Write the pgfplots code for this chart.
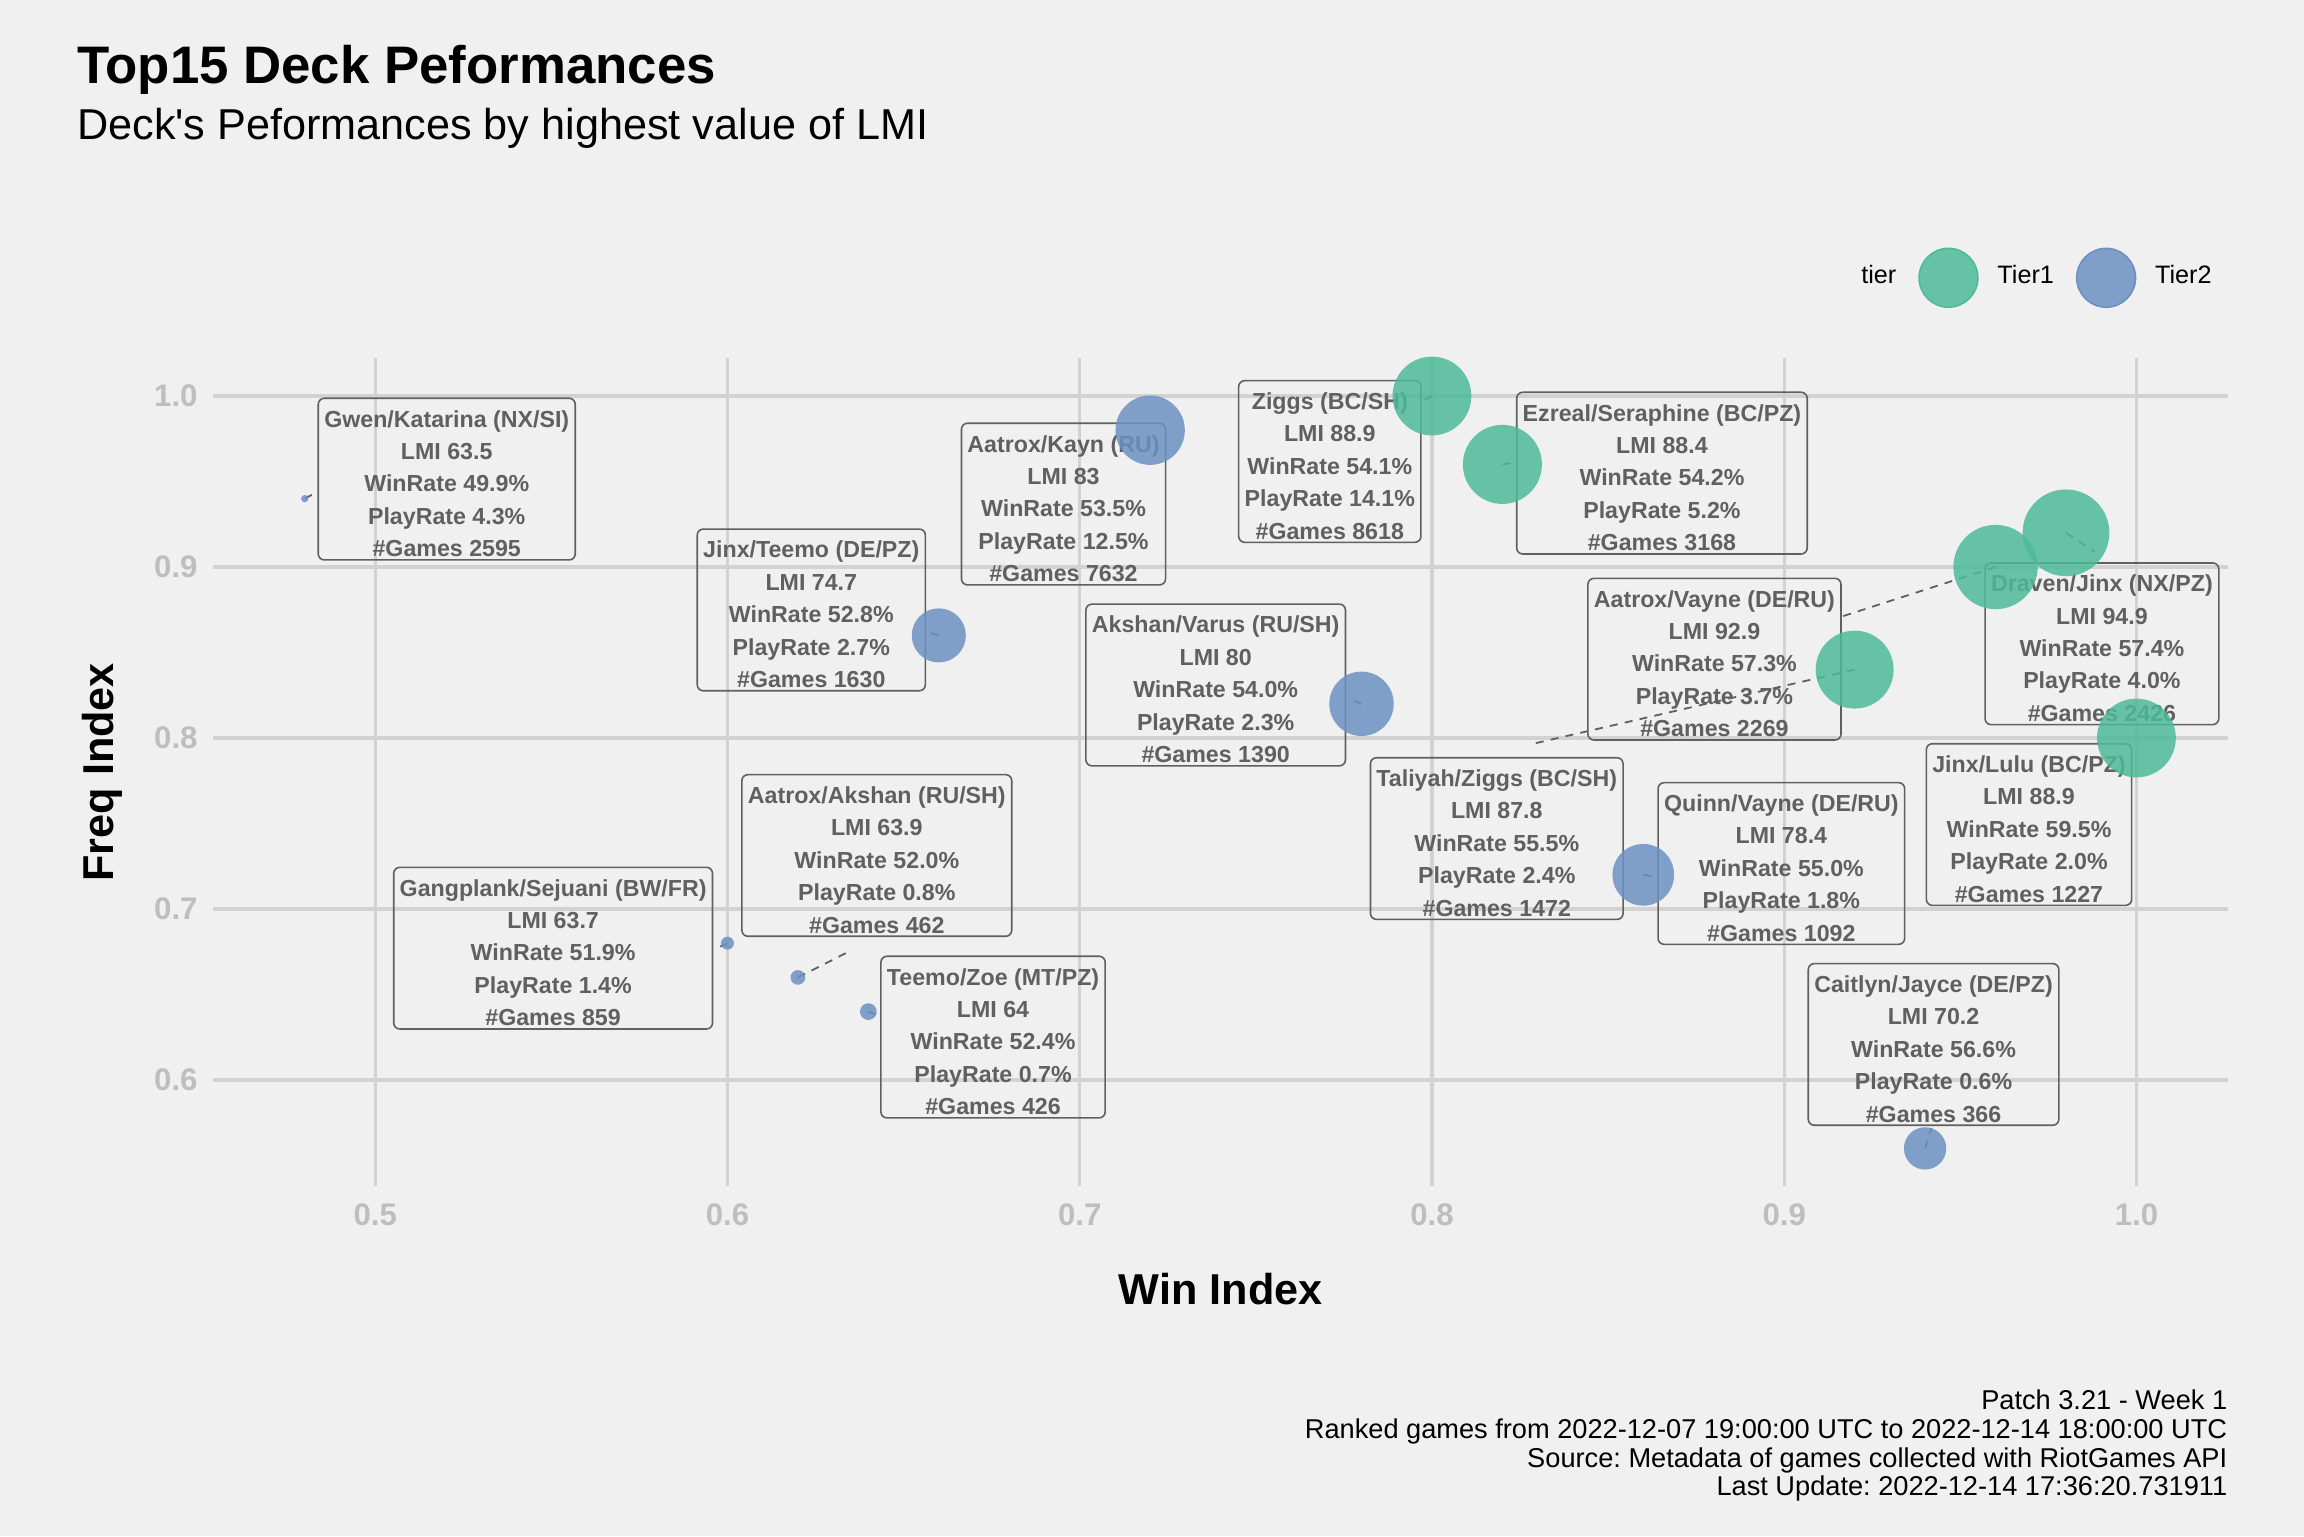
\documentclass[border=0pt]{standalone}
\usepackage{pgfplots}
\pgfplotsset{compat=1.18}
\usepackage{pgfplotstable}
\usepackage{fontspec}
\setmainfont{Liberation Sans}
\frenchspacing
\definecolor{bg}{HTML}{F0F0F0}
\definecolor{gridc}{HTML}{D2D2D2}
\definecolor{tickc}{HTML}{BEBEBE}
\definecolor{labc}{HTML}{606060}
\definecolor{tierA}{RGB}{78,186,152}
\definecolor{tierB}{RGB}{108,144,193}

% x = Win Index, y = Freq Index, r = bubble radius (pt), lmi
\pgfplotstableread{
x    y    r     lmi
0.80 1.00 9.85  88.9
0.82 0.96 9.88  88.4
0.96 0.90 10.54 92.9
0.98 0.92 10.84 94.9
0.92 0.84 9.74  87.8
1.00 0.80 9.85  88.9
}\tierone

\pgfplotstableread{
x    y    r     lmi
0.48 0.94 0.92  63.5
0.66 0.86 6.76  74.7
0.72 0.98 8.67  83.0
0.78 0.82 8.05  80.0
0.86 0.72 7.71  78.4
0.94 0.56 5.29  70.2
0.60 0.68 1.62  63.7
0.62 0.66 1.84  63.9
0.64 0.64 2.09  64.0
}\tiertwo

\tikzset{
  lab/.style={draw=labc, line width=0.4pt, rounded corners=1.5pt, text=labc,
    font=\bfseries\fontsize{5.8}{8.1}\selectfont, align=center,
    inner xsep=1.5pt, inner ysep=0.75pt, anchor=center},
  seg/.style={labc, line width=0.45pt, dash pattern=on 2pt off 1.8pt}
}
\newcommand{\st}{\rule{0pt}{6.45pt}}

\begin{document}
\begin{tikzpicture}
\fill[bg] (0,0) rectangle (576pt,384pt);
\begin{axis}[
  at={(53.3pt,87.5pt)}, anchor=south west,
  scale only axis, width=503.7pt, height=206.9pt,
  xmin=0.454, xmax=1.026, ymin=0.538, ymax=1.022,
  axis line style={draw=none},
  major tick length=0pt,
  tick style={draw=none},
  grid=major,
  major grid style={draw=gridc, line width=0.8pt},
  xtick={0.5,0.6,0.7,0.8,0.9,1.0},
  xticklabels={0.5,0.6,0.7,0.8,0.9,1.0},
  ytick={0.6,0.7,0.8,0.9,1.0},
  yticklabels={0.6,0.7,0.8,0.9,1.0},
  ticklabel style={font=\bfseries\fontsize{7.8}{8}\selectfont, text=tickc, inner sep=0pt},
  xticklabel style={anchor=center, yshift=-7.1pt},
  yticklabel style={anchor=east, xshift=-3.7pt},
  xlabel={Win Index}, ylabel={Freq Index},
  label style={font=\bfseries\fontsize{10.8}{12}\selectfont, inner sep=0pt},
  xlabel style={at={(axis description cs:0.5,-0.1247)}, anchor=center},
  ylabel style={at={(axis description cs:-0.0552,0.5)}, anchor=center},
  clip=false,
  legend columns=3,
  legend style={draw=none, fill=none, at={(1,1)}, anchor=south east,
    xshift=-4.1pt, yshift=12.6pt, inner sep=0pt, outer sep=0pt,
    cells={anchor=west},
    nodes={inner sep=0pt, font=\fontsize{6.3}{7}\selectfont, text=black},
    column sep=4.7pt,
    /tikz/every even column/.append style={column sep=5.5pt}},
]
% bubbles
\addplot[scatter, only marks, mark=*, forget plot,
  scatter/use mapped color={draw=tierA, fill=tierA},
  mark options={fill opacity=0.85, draw opacity=0},
  visualization depends on={\thisrow{r}\as\rr},
  scatter/@pre marker code/.append style={/tikz/mark size=\rr pt}]
  table[x=x,y=y] {\tierone};
\addplot[scatter, only marks, mark=*, forget plot,
  scatter/use mapped color={draw=tierB, fill=tierB},
  mark options={fill opacity=0.85, draw opacity=0},
  visualization depends on={\thisrow{r}\as\rr},
  scatter/@pre marker code/.append style={/tikz/mark size=\rr pt}]
  table[x=x,y=y] {\tiertwo};

% legend
\addlegendimage{empty legend}\addlegendentry{tier}
\addlegendimage{legend image code/.code={\fill[tierA,fill opacity=0.85] (7.35pt,0pt) circle (7.35pt);}}\addlegendentry{Tier1}
\addlegendimage{legend image code/.code={\fill[tierB,fill opacity=0.85] (7.35pt,0pt) circle (7.35pt);}}\addlegendentry{Tier2}

% label segments
\addplot[seg, forget plot] coordinates {(0.48,0.94) (0.4837,0.9441)};
\addplot[seg, forget plot] coordinates {(0.66,0.86) (0.6562,0.8624)};
\addplot[seg, forget plot] coordinates {(0.80,1.00) (0.7965,0.9966)};
\addplot[seg, forget plot] coordinates {(0.82,0.96) (0.8240,0.9613)};
\addplot[seg, forget plot] coordinates {(0.78,0.82) (0.7760,0.8229)};
\addplot[seg, forget plot] coordinates {(0.98,0.92) (0.9881,0.9089)};
\addplot[seg, forget plot] coordinates {(0.96,0.90) (0.9163,0.8710)};
\addplot[seg, forget plot] coordinates {(0.92,0.84) (0.8278,0.7962)};
\addplot[seg, forget plot] coordinates {(0.86,0.72) (0.8633,0.7188)};
\addplot[seg, forget plot] coordinates {(0.94,0.56) (0.9418,0.5718)};
\addplot[seg, forget plot] coordinates {(0.60,0.68) (0.5965,0.6767)};
\addplot[seg, forget plot] coordinates {(0.62,0.66) (0.6344,0.6750)};
\addplot[seg, forget plot] coordinates {(0.64,0.64) (0.6436,0.6371)};

% labels
\node[lab] at (axis cs:0.5203,0.9514) {\st Gwen/Katarina (NX/SI)\\LMI 63.5\\WinRate 49.9\%\\PlayRate 4.3\%\\\#Games 2595};
\node[lab] at (axis cs:0.6238,0.8749) {\st Jinx/Teemo (DE/PZ)\\LMI 74.7\\WinRate 52.8\%\\PlayRate 2.7\%\\\#Games 1630};
\node[lab] at (axis cs:0.6954,0.9368) {\st Aatrox/Kayn (RU)\\LMI 83\\WinRate 53.5\%\\PlayRate 12.5\%\\\#Games 7632};
\node[lab] at (axis cs:0.7710,0.9617) {\st Ziggs (BC/SH)\\LMI 88.9\\WinRate 54.1\%\\PlayRate 14.1\%\\\#Games 8618};
\node[lab] at (axis cs:0.8653,0.9549) {\st Ezreal/Seraphine (BC/PZ)\\LMI 88.4\\WinRate 54.2\%\\PlayRate 5.2\%\\\#Games 3168};
\node[lab] at (axis cs:0.7386,0.8310) {\st Akshan/Varus (RU/SH)\\LMI 80\\WinRate 54.0\%\\PlayRate 2.3\%\\\#Games 1390};
\node[lab] at (axis cs:0.8802,0.8461) {\st Aatrox/Vayne (DE/RU)\\LMI 92.9\\WinRate 57.3\%\\PlayRate 3.7\%\\\#Games 2269};
\node[lab] at (axis cs:0.9902,0.8551) {\st Draven/Jinx (NX/PZ)\\LMI 94.9\\WinRate 57.4\%\\PlayRate 4.0\%\\\#Games 2426};
\node[lab] at (axis cs:0.8184,0.7412) {\st Taliyah/Ziggs (BC/SH)\\LMI 87.8\\WinRate 55.5\%\\PlayRate 2.4\%\\\#Games 1472};
\node[lab] at (axis cs:0.8992,0.7266) {\st Quinn/Vayne (DE/RU)\\LMI 78.4\\WinRate 55.0\%\\PlayRate 1.8\%\\\#Games 1092};
\node[lab] at (axis cs:0.9695,0.7494) {\st Jinx/Lulu (BC/PZ)\\LMI 88.9\\WinRate 59.5\%\\PlayRate 2.0\%\\\#Games 1227};
\node[lab] at (axis cs:0.9424,0.6208) {\st Caitlyn/Jayce (DE/PZ)\\LMI 70.2\\WinRate 56.6\%\\PlayRate 0.6\%\\\#Games 366};
\node[lab] at (axis cs:0.5505,0.6771) {\st Gangplank/Sejuani (BW/FR)\\LMI 63.7\\WinRate 51.9\%\\PlayRate 1.4\%\\\#Games 859};
\node[lab] at (axis cs:0.6424,0.7313) {\st Aatrox/Akshan (RU/SH)\\LMI 63.9\\WinRate 52.0\%\\PlayRate 0.8\%\\\#Games 462};
\node[lab] at (axis cs:0.6754,0.6251) {\st Teemo/Zoe (MT/PZ)\\LMI 64\\WinRate 52.4\%\\PlayRate 0.7\%\\\#Games 426};
\end{axis}

\node[anchor=base west, inner sep=0pt, font=\bfseries\fontsize{13.2}{15}\selectfont] at (19.1pt,363.2pt) {Top15 Deck Peformances};
\node[anchor=base west, inner sep=0pt, font=\fontsize{10.8}{13}\selectfont] at (19.1pt,349pt) {Deck\textquotesingle s Peformances by highest value of LMI};

\node[anchor=base east, inner sep=0pt, font=\fontsize{6.8}{7.2}\selectfont] at (557pt,31.7pt) {Patch 3.21 - Week 1};
\node[anchor=base east, inner sep=0pt, font=\fontsize{6.8}{7.2}\selectfont] at (557pt,24.4pt) {Ranked games from 2022-12-07 19:00:00 UTC to 2022-12-14 18:00:00 UTC};
\node[anchor=base east, inner sep=0pt, font=\fontsize{6.8}{7.2}\selectfont] at (557pt,17.2pt) {Source: Metadata of games collected with RiotGames API};
\node[anchor=base east, inner sep=0pt, font=\fontsize{6.8}{7.2}\selectfont] at (557pt,10.2pt) {Last Update: 2022-12-14 17:36:20.731911};

\pgfresetboundingbox
\path[use as bounding box] (0,0) rectangle (576pt,384pt);
\end{tikzpicture}
\end{document}
